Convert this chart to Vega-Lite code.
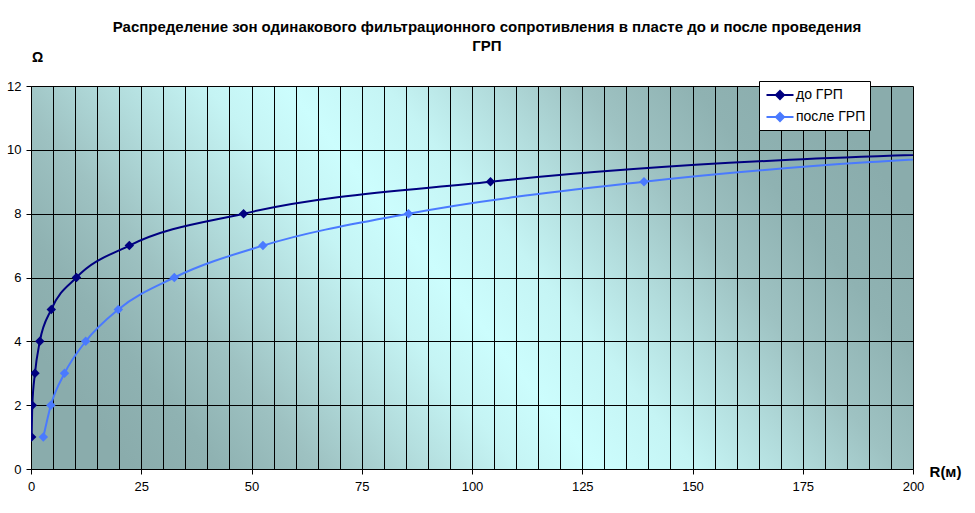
{
  "$schema": "https://vega.github.io/schema/vega-lite/v6.json",
  "width": 882,
  "height": 383,
  "autosize": {"type": "none"},
  "padding": {"left": 31, "top": 86, "right": 62, "bottom": 44},
  "background": "white",
  "view": {
    "stroke": null,
    "fill": {
      "gradient": "linear",
      "x1": 0, "y1": 0.677, "x2": 1, "y2": 0.323,
      "stops": [
        {"offset": 0, "color": "#8aacac"},
        {"offset": 0.09, "color": "#8fb2b2"},
        {"offset": 0.19, "color": "#9ec2c2"},
        {"offset": 0.29, "color": "#b2dcdc"},
        {"offset": 0.39, "color": "#c5f4f4"},
        {"offset": 0.47, "color": "#ccfdfd"},
        {"offset": 0.57, "color": "#c5f4f4"},
        {"offset": 0.67, "color": "#b2dcdc"},
        {"offset": 0.77, "color": "#9ec2c2"},
        {"offset": 0.88, "color": "#8fb2b2"},
        {"offset": 1, "color": "#8aacac"}
      ]
    }
  },
  "title": {
    "text": ["Распределение зон одинакового фильтрационного сопротивления в пласте до и после проведения", "ГРП"],
    "font": "Liberation Sans",
    "fontSize": 15,
    "fontWeight": "bold",
    "color": "black",
    "anchor": "middle",
    "frame": "group",
    "dx": 15,
    "dy": 38,
    "offset": 34,
    "lineHeight": 19
  },
  "data": {
    "values": [
      {"series": "до ГРП", "r": 0.15, "omega": 1},
      {"series": "до ГРП", "r": 0.3, "omega": 2},
      {"series": "до ГРП", "r": 0.9, "omega": 3},
      {"series": "до ГРП", "r": 2.0, "omega": 4},
      {"series": "до ГРП", "r": 4.6, "omega": 5},
      {"series": "до ГРП", "r": 10.3, "omega": 6},
      {"series": "до ГРП", "r": 22.3, "omega": 7},
      {"series": "до ГРП", "r": 48.2, "omega": 8},
      {"series": "до ГРП", "r": 104.2, "omega": 9},
      {"series": "до ГРП", "r": 240, "omega": 10},
      {"series": "после ГРП", "r": 2.8, "omega": 1},
      {"series": "после ГРП", "r": 4.5, "omega": 2},
      {"series": "после ГРП", "r": 7.6, "omega": 3},
      {"series": "после ГРП", "r": 12.4, "omega": 4},
      {"series": "после ГРП", "r": 19.8, "omega": 5},
      {"series": "после ГРП", "r": 32.5, "omega": 6},
      {"series": "после ГРП", "r": 52.6, "omega": 7},
      {"series": "после ГРП", "r": 85.6, "omega": 8},
      {"series": "после ГРП", "r": 139.0, "omega": 9},
      {"series": "после ГРП", "r": 240, "omega": 10}
    ]
  },
  "encoding": {
    "x": {
      "field": "r", "type": "quantitative",
      "scale": {"domain": [0, 200], "nice": false, "zero": false},
      "axis": {
        "title": "R(м)",
        "titleX": 914, "titleY": 2, "titleAlign": "center", "titleBaseline": "middle",
        "titleFont": "Liberation Sans", "titleFontSize": 15, "titleFontWeight": "bold", "titleColor": "black",
        "values": [0,5,10,15,20,25,30,35,40,45,50,55,60,65,70,75,80,85,90,95,100,105,110,115,120,125,130,135,140,145,150,155,160,165,170,175,180,185,190,195,200],
        "labelExpr": "datum.value % 25 === 0 ? datum.label : ''",
        "tickOpacity": {"condition": {"test": "datum.value % 25 === 0", "value": 1}, "value": 0},
        "grid": true, "gridColor": "black", "gridOpacity": 1, "gridWidth": 1,
        "domainColor": "black", "tickColor": "black", "tickSize": 5,
        "labelFont": "Liberation Sans", "labelFontSize": 13, "labelColor": "black", "labelPadding": 6,
        "labelFlush": false, "labelOverlap": false
      }
    },
    "y": {
      "field": "omega", "type": "quantitative",
      "scale": {"domain": [0, 12], "nice": false},
      "axis": {
        "title": "Ω",
        "titleAngle": 0, "titleX": 6, "titleY": -29, "titleAlign": "center", "titleBaseline": "middle",
        "titleFont": "Liberation Sans", "titleFontSize": 14, "titleFontWeight": "bold", "titleColor": "black",
        "values": [0, 2, 4, 6, 8, 10, 12],
        "grid": true, "gridColor": "black", "gridOpacity": 1, "gridWidth": 1,
        "domainColor": "black", "tickColor": "black", "tickSize": 5,
        "labelFont": "Liberation Sans", "labelFontSize": 13, "labelColor": "black", "labelPadding": 5,
        "labelFlush": false, "labelOverlap": false
      }
    },
    "color": {
      "field": "series", "type": "nominal",
      "scale": {"domain": ["до ГРП", "после ГРП"], "range": ["#000080", "#4a7aff"]},
      "legend": {
        "title": null,
        "orient": "none",
        "legendX": 728,
        "legendY": -5,
        "fillColor": "white",
        "strokeColor": "black",
        "padding": 4,
        "rowPadding": 3,
        "labelFont": "Liberation Sans",
        "labelFontSize": 14,
        "labelColor": "black",
        "symbolType": "M-1.5,0H1.5M0,-0.45L0.45,0L0,0.45L-0.45,0Z",
        "symbolSize": 324,
        "symbolOffset": 7,
        "labelOffset": 6,
        "symbolStrokeWidth": 2,
        "encode": {
          "symbols": {
            "update": {
              "fill": {"scale": "color", "field": "value"},
              "stroke": {"scale": "color", "field": "value"},
              "fillOpacity": {"value": 1},
              "strokeWidth": {"value": 2}
            }
          }
        }
      }
    }
  },
  "layer": [
    {"mark": {"type": "line", "interpolate": "monotone", "strokeWidth": 2, "clip": true}},
    {"mark": {"type": "point", "shape": "diamond", "filled": true, "size": 90, "opacity": 1, "clip": true}}
  ]
}
